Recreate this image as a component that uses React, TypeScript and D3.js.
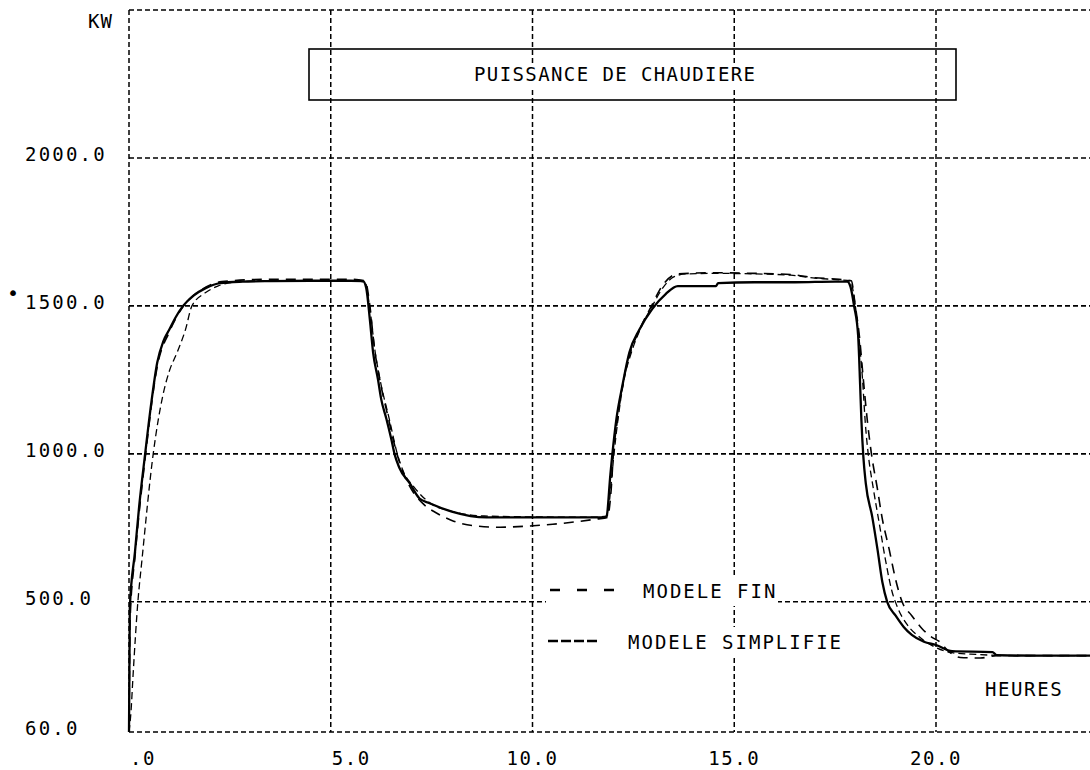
import React from "react";
import * as d3 from "d3";

// ---- axis ticks ----
const yTicks = [60, 500, 1000, 1500, 2000];
const yTickLabels = ["60.0", "500.0", "1000.0", "1500.0", "2000.0"];
const xTicks = [0, 5, 10, 15, 20];
const xTickLabels = [".0", "5.0", "10.0", "15.0", "20.0"];

// ---- solid curve (reference) ----
const solidHours = [0, 0.02, 0.15, 0.25, 0.4, 0.55, 0.7, 0.85, 1.0, 1.15, 1.34, 1.6, 1.9, 2.26, 2.8, 3.5, 4.5, 5.5, 5.8, 5.88, 5.97, 6.05, 6.17, 6.25, 6.38, 6.5, 6.58, 6.7, 6.96, 7.2, 7.45, 8.0, 8.86, 9.5, 10.5, 11.5, 11.83, 11.93, 11.98, 12.08, 12.23, 12.4, 12.65, 12.97, 13.3, 13.6, 14.55, 14.6, 15.5, 16.5, 17.5, 17.8, 17.88, 17.97, 18.07, 18.12, 18.15, 18.2, 18.26, 18.42, 18.55, 18.67, 18.79, 19.0, 19.2, 19.4, 19.7, 20.0, 20.4, 21.4, 21.5, 22.5, 24];
const solidKW = [60, 480, 671, 820, 1000, 1170, 1309, 1380, 1420, 1460, 1500, 1535, 1560, 1577, 1582, 1584, 1585, 1585, 1584, 1560, 1453, 1342, 1252, 1185, 1118, 1050, 1000, 953, 900, 849, 833, 805, 785, 785, 785, 785, 786, 930, 1000, 1118, 1232, 1342, 1420, 1490, 1540, 1567, 1567, 1577, 1580, 1580, 1582, 1582, 1565, 1500, 1400, 1232, 1118, 990, 900, 787, 677, 567, 500, 453, 415, 388, 365, 354, 333, 330, 320, 318, 318];

// ---- MODELE FIN (long dashes) ----
const finHours = [0, 0.03, 0.15, 0.4, 0.7, 1.0, 1.34, 1.8, 2.3, 3.5, 5.5, 5.85, 5.97, 6.08, 6.2, 6.42, 6.62, 6.8, 7.0, 7.3, 7.62, 8.0, 8.5, 9.2, 9.9, 10.5, 11.17, 11.6, 11.85, 11.95, 12.0, 12.1, 12.25, 12.42, 12.68, 12.95, 13.2, 13.6, 14.5, 15.5, 16.4, 17.0, 17.6, 17.9, 18.0, 18.1, 18.2, 18.3, 18.4, 18.55, 18.66, 18.84, 19.0, 19.16, 19.4, 19.65, 19.9, 20.07, 20.35, 20.6, 21.1, 21.5, 22, 24];
const finKW = [60, 450, 655, 985, 1295, 1412, 1498, 1555, 1582, 1590, 1590, 1585, 1500, 1360, 1262, 1125, 1010, 935, 880, 830, 800, 775, 758, 752, 756, 762, 772, 780, 785, 880, 990, 1110, 1245, 1340, 1428, 1500, 1565, 1608, 1612, 1610, 1606, 1595, 1590, 1585, 1500, 1400, 1250, 1110, 1000, 880, 787, 677, 575, 500, 453, 410, 380, 367, 328, 312, 310, 318, 318, 318];

// ---- MODELE SIMPLIFIE (short dashes) ----
const simpHours = [0, 0.05, 0.1, 0.22, 0.32, 0.6, 0.84, 1.0, 1.19, 1.4, 1.56, 1.9, 2.2, 2.6, 3.5, 5.5, 5.85, 5.96, 6.1, 6.22, 6.45, 6.65, 6.8, 7.05, 7.5, 8.0, 8.8, 10, 11.5, 11.85, 11.95, 12.02, 12.12, 12.27, 12.45, 12.7, 12.97, 13.2, 13.5, 13.8, 14.5, 15.5, 16.4, 17.0, 17.6, 17.88, 17.99, 18.1, 18.18, 18.25, 18.32, 18.45, 18.6, 18.75, 18.9, 19.05, 19.3, 19.6, 20.0, 20.4, 21, 22, 24];
const simpKW = [60, 130, 250, 500, 640, 1000, 1198, 1280, 1342, 1420, 1500, 1545, 1567, 1580, 1585, 1585, 1580, 1500, 1345, 1252, 1118, 1000, 940, 890, 830, 806, 790, 787, 786, 790, 900, 1000, 1118, 1252, 1342, 1430, 1500, 1555, 1598, 1608, 1610, 1608, 1604, 1594, 1588, 1584, 1510, 1380, 1250, 1100, 1000, 880, 760, 640, 540, 480, 420, 380, 345, 328, 322, 318, 318];

const W = 1090;
const H = 770;
const FONT = "'DejaVu Sans Mono', monospace";

export default function App() {
  const x = d3.scaleLinear().domain([0, 24]).range([129, 129 + 24 * 40.35]);
  const y = d3.scaleLinear().domain([60, 2500]).range([732, 10]);

  const mk = (hs: number[], vs: number[]) =>
    d3
      .line<number>()
      .x((_, i) => x(hs[i]))
      .y((v) => y(v))
      .curve(d3.curveMonotoneX)(vs) || "";

  const solidPath = mk(solidHours, solidKW);
  const finPath = mk(finHours, finKW);
  const simpPath = mk(simpHours, simpKW);

  const gridY = [500, 1000, 1500, 2000, 2500, 60];
  const gridX = xTicks;

  const grid = "5 3";

  return (
    <svg
      width={W}
      height={H}
      style={{ position: "absolute", left: 0, top: 0, background: "#fff" }}
      fontFamily={FONT}
    >
      <rect x={0} y={0} width={W} height={H} fill="#fff" />
      {/* grid */}
      {gridY.map((v) => (
        <line key={"gy" + v} x1={x(0)} x2={W} y1={y(v)} y2={y(v)} stroke="#000" strokeWidth={1.6} strokeDasharray={grid} />
      ))}
      {gridX.map((t) => (
        <line key={"gx" + t} x1={x(t)} x2={x(t)} y1={y(2500)} y2={y(60)} stroke="#000" strokeWidth={1.5} strokeDasharray={grid} />
      ))}

      {/* title box */}
      <rect x={309} y={49} width={647} height={51} fill="none" stroke="#000" strokeWidth={1.6} />
      <rect x={468} y={63} width={296} height={24} fill="#fff" />
      <text x={474} y={81} fontSize={19} letterSpacing={1.4} fill="#000">
        PUISSANCE DE CHAUDIERE
      </text>

      {/* curves */}
      <path d={simpPath} fill="none" stroke="#000" strokeWidth={1.3} strokeDasharray="7 4" />
      <path d={finPath} fill="none" stroke="#000" strokeWidth={1.6} strokeDasharray="10 7" />
      <path d={solidPath} fill="none" stroke="#000" strokeWidth={2.3} />

      {/* legend */}
      <rect x={546} y={578} width={232} height={28} fill="#fff" />
      <rect x={546} y={627} width={300} height={29} fill="#fff" />
      <line x1={550} x2={616} y1={590} y2={590} stroke="#000" strokeWidth={2.5} strokeDasharray="10 17" />
      <text x={643} y={598} fontSize={19} letterSpacing={2} fill="#000">MODELE FIN</text>
      <line x1={548} x2={598} y1={641} y2={641} stroke="#000" strokeWidth={2.5} strokeDasharray="10 3" />
      <text x={628} y={649} fontSize={19} letterSpacing={2} fill="#000">MODELE SIMPLIFIE</text>

      {/* axis labels */}
      <text x={88} y={28} fontSize={19} letterSpacing={1} fill="#000">KW</text>
      {yTicks.map((v, i) => (
        <text key={"yl" + v} x={25} y={y(v) + 3} fontSize={19} letterSpacing={2.2} fill="#000">
          {yTickLabels[i]}
        </text>
      ))}
      <text x={7} y={300} fontSize={20} fill="#000">•</text>
      {xTicks.map((t, i) => {
        const lbl = xTickLabels[i];
        const mid = lbl.length >= 4;
        return (
          <text key={"xl" + t} x={x(t) + (mid ? 0 : 1)} y={765} fontSize={19} letterSpacing={1.6} textAnchor={mid ? "middle" : "start"} fill="#000">
            {lbl}
          </text>
        );
      })}
      <text x={985} y={696} fontSize={19} letterSpacing={1.6} fill="#000">HEURES</text>
    </svg>
  );
}
